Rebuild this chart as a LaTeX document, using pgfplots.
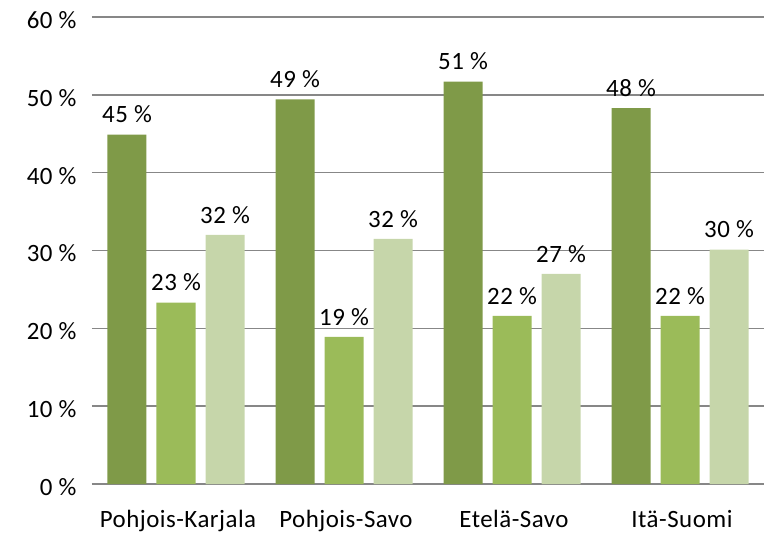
\documentclass[border=0pt]{standalone}
\usepackage{pgfplots}
\pgfplotsset{compat=1.18}
\usepackage{fontspec}
\setmainfont{Carlito}[LetterSpace=2]
\definecolor{cA}{HTML}{7F9A48}
\definecolor{cB}{HTML}{9BBB59}
\definecolor{cC}{HTML}{C6D6AA}
\definecolor{gridc}{HTML}{878787}
\begin{document}
\begin{tikzpicture}
\begin{axis}[
  name=ax,
  scale only axis,
  width=672bp, height=467bp,
  xmin=-0.5, xmax=3.5,
  ymin=0, ymax=60,
  ybar=10bp, bar width=39bp,
  xtick={0,1,2,3},
  xticklabels={Pohjois-Karjala,Pohjois-Savo,Etelä-Savo,Itä-Suomi},
  ytick={0,10,20,30,40,50,60},
  yticklabel={\pgfmathprintnumber{\tick}~\%},
  /pgf/number format/assume math mode=true,
  ymajorgrids,
  grid style={gridc, line width=1.6bp},
  axis x line*=bottom,
  axis y line*=left,
  y axis line style={draw=none},
  x axis line style={gridc, line width=1.6bp, -},
  major tick length=0pt,
  tick label style={font=\fontsize{25}{29}\selectfont, black},
  yticklabel style={xshift=-12bp, yshift=-3bp},
  xticklabel style={yshift=-23bp, xshift=2bp},
  point meta=explicit symbolic,
  nodes near coords={\pgfplotspointmeta~\%},
  every node near coord/.append style={font=\fontsize{25}{29}\selectfont, black, yshift=8bp},
  clip=false,
]
\addplot[fill=cA, draw=none] coordinates {(0,44.9) [45] (1,49.4) [49] (2,51.7) [51] (3,48.3) [48]};
\addplot[fill=cB, draw=none] coordinates {(0,23.3) [23] (1,18.9) [19] (2,21.6) [22] (3,21.6) [22]};
\addplot[fill=cC, draw=none] coordinates {(0,32.0) [32] (1,31.5) [32] (2,27.0) [27] (3,30.1) [30]};
\end{axis}
\pgfresetboundingbox
\path (ax.south west) ++(-92bp,-49bp) coordinate (bl);
\path (ax.north east) ++(1bp,17bp) coordinate (tr);
\path[use as bounding box] (bl) rectangle (tr);
\end{tikzpicture}
\end{document}
